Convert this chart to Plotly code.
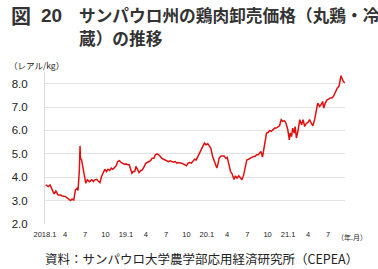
import plotly.graph_objects as go

dates = [
 "2018-01-04","2018-01-16","2018-01-24","2018-02-04","2018-02-11","2018-02-19","2018-03-01","2018-03-13","2018-03-20",
 "2018-04-04","2018-04-18","2018-04-26","2018-05-03","2018-05-11","2018-05-18","2018-05-26","2018-05-30","2018-06-05",
 "2018-06-08","2018-06-10","2018-06-15","2018-06-21","2018-06-28","2018-07-04","2018-07-11","2018-07-20","2018-07-31",
 "2018-08-07","2018-08-14","2018-08-22","2018-08-29","2018-09-06","2018-09-13","2018-09-20","2018-09-28","2018-10-05",
 "2018-10-12","2018-10-20","2018-10-27","2018-11-03","2018-11-11","2018-11-18","2018-11-25","2018-12-03","2018-12-10",
 "2018-12-17","2018-12-25","2019-01-02","2019-01-09","2019-01-16","2019-01-24","2019-01-28","2019-01-31","2019-02-03",
 "2019-02-10","2019-02-15","2019-02-22","2019-03-01","2019-03-09","2019-03-16","2019-03-23","2019-03-31","2019-04-07",
 "2019-04-15","2019-04-22","2019-04-29","2019-05-07","2019-05-14","2019-05-21","2019-05-29","2019-06-05","2019-06-12",
 "2019-06-20","2019-06-27","2019-07-04","2019-07-12","2019-07-19","2019-07-27","2019-08-03","2019-08-11","2019-08-18",
 "2019-08-25","2019-09-02","2019-09-09","2019-09-16","2019-09-24","2019-10-01","2019-10-08","2019-10-16","2019-10-23",
 "2019-10-30","2019-11-07","2019-11-14","2019-11-22","2019-11-29","2019-12-06","2019-12-14","2019-12-21","2019-12-28",
 "2020-01-05","2020-01-12","2020-01-19","2020-01-27","2020-02-03","2020-02-10","2020-02-15","2020-02-21","2020-02-25",
 "2020-03-03","2020-03-07","2020-03-19","2020-03-26","2020-04-02","2020-04-07","2020-04-12","2020-04-17","2020-04-24",
 "2020-05-02","2020-05-09","2020-05-16","2020-05-24","2020-05-31","2020-06-07","2020-06-15","2020-06-22","2020-06-29",
 "2020-07-07","2020-07-14","2020-07-22","2020-07-29","2020-08-05","2020-08-13","2020-08-20","2020-08-27","2020-09-01",
 "2020-09-08","2020-09-14","2020-09-18","2020-09-26","2020-10-03","2020-10-11","2020-10-18","2020-10-26","2020-11-02",
 "2020-11-09","2020-11-17","2020-11-24","2020-12-01","2020-12-09","2020-12-16","2020-12-23","2020-12-31","2021-01-07",
 "2021-01-11","2021-01-17","2021-01-22","2021-01-29","2021-02-02","2021-02-08","2021-02-16","2021-02-23","2021-03-03",
 "2021-03-10","2021-03-17","2021-03-25","2021-04-01","2021-04-08","2021-04-16","2021-04-23","2021-05-01","2021-05-08",
 "2021-05-15","2021-05-23","2021-05-30","2021-06-06","2021-06-11","2021-06-18","2021-06-26","2021-07-03","2021-07-10",
 "2021-07-18","2021-07-25","2021-08-01","2021-08-06","2021-08-11","2021-08-19","2021-08-23","2021-08-28","2021-09-01",
 "2021-09-07","2021-09-14",
]
prices = [
 3.67,3.60,3.67,3.38,3.29,3.41,3.24,3.24,3.20,
 3.17,3.06,3.00,3.06,3.03,3.46,3.53,3.43,4.31,
 5.34,4.81,4.74,4.46,4.03,3.74,3.89,3.81,3.89,
 3.81,3.89,3.91,3.84,3.77,4.03,4.20,4.34,4.24,
 4.34,4.29,4.39,4.34,4.43,4.49,4.67,4.71,4.63,
 4.60,4.56,4.57,4.53,4.53,4.34,4.17,4.20,4.24,
 4.24,4.46,4.34,4.20,4.29,4.31,4.43,4.60,4.63,
 4.67,4.71,4.81,4.81,4.96,5.00,4.96,4.86,4.81,
 4.77,4.74,4.71,4.67,4.70,4.67,4.64,4.67,4.60,
 4.63,4.63,4.60,4.57,4.53,4.49,4.60,4.63,4.60,
 4.67,4.77,4.74,4.89,5.03,5.20,5.31,5.46,5.39,
 5.43,5.34,5.24,4.89,4.67,4.46,4.39,4.60,4.81,
 4.89,4.91,4.91,4.81,4.85,4.60,4.46,4.24,4.14,
 3.91,4.06,3.96,4.06,3.96,3.89,4.10,4.46,4.74,
 4.77,4.81,4.86,4.89,4.89,4.96,4.96,5.03,5.10,
 4.86,5.17,5.46,5.89,5.91,6.00,5.96,6.03,6.10,
 6.10,6.17,6.20,6.46,6.39,6.41,6.31,6.03,5.60,
 5.89,5.74,6.10,5.89,6.17,5.67,6.03,6.46,6.24,
 6.46,6.17,6.31,6.34,6.46,6.31,6.20,6.46,6.81,
 7.17,7.03,7.10,7.24,6.96,7.17,7.31,7.34,7.39,
 7.39,7.46,7.60,7.74,7.81,7.89,8.10,8.34,8.24,
 8.10,8.03,
]
tick_dates = ["2018-01-01","2018-04-01","2018-07-01","2018-10-01","2019-01-01","2019-04-01","2019-07-01",
              "2019-10-01","2020-01-01","2020-04-01","2020-07-01","2020-10-01","2021-01-01","2021-04-01","2021-07-01"]
tick_text = ["2018.1","4","7","10","19.1","4","7","10","20.1","4","7","10","21.1","4","7"]
y_ticks = [2, 3, 4, 5, 6, 7, 8]

fig = go.Figure()
fig.add_trace(go.Scatter(x=dates, y=prices, mode="lines",
                         line=dict(color="#e01010", width=1.5), showlegend=False))

cjk = "Noto Sans CJK JP"
fig.update_layout(
    width=378, height=269,
    margin=dict(l=39, r=33, t=72, b=45),
    paper_bgcolor="white", plot_bgcolor="white",
    xaxis=dict(type="date", range=["2018-01-01", "2021-09-15"],
               tickvals=tick_dates, ticktext=tick_text, showgrid=False,
               ticks="", ticklabelstandoff=4,
               tickfont=dict(family="Liberation Sans", size=7.5, color="#222"),
               showline=False, zeroline=False),
    yaxis=dict(range=[2, 8.5], tickvals=y_ticks, ticktext=[f"{v:.1f}" for v in y_ticks],
               showgrid=True, gridcolor="#e3e3e3", gridwidth=1,
               ticks="", ticklabelstandoff=14,
               tickfont=dict(family="Liberation Sans", size=11.5, color="#222"),
               showline=True, linecolor="#dcdcdc", linewidth=1, zeroline=False),
)

def px_ann(text, x, y, size, xanchor="left", bold=False, family=cjk, color="#222"):
    # convert pixel position of whole page to paper coords
    plot_w = 378 - 39 - 33
    plot_h = 269 - 72 - 45
    px = (x - 39) / plot_w
    py = (269 - 45 - y) / plot_h
    fig.add_annotation(text=f"<b>{text}</b>" if bold else text, x=px, y=py,
                       xref="paper", yref="paper", showarrow=False,
                       xanchor=xanchor, yanchor="middle",
                       font=dict(family=family, size=size, color=color))

px_ann("図", 2, 15, 20, bold=True, color="#333")
px_ann("20", 33, 15, 19, bold=True, family="Liberation Sans", color="#333")
px_ann("サンパウロ州の鶏肉卸売価格（丸鶏・冷", 72, 15, 16.7, bold=True, color="#333")
px_ann("蔵）の推移", 72, 38, 16.7, bold=True, color="#333")
px_ann("（レアル/kg）", 0, 65, 8.5)
px_ann("（年.月）", 335, 237, 7)
px_ann("資料：サンパウロ大学農学部応用経済研究所（CEPEA）", 199, 258, 12.5, xanchor="center")

fig.write_html("out.html")
